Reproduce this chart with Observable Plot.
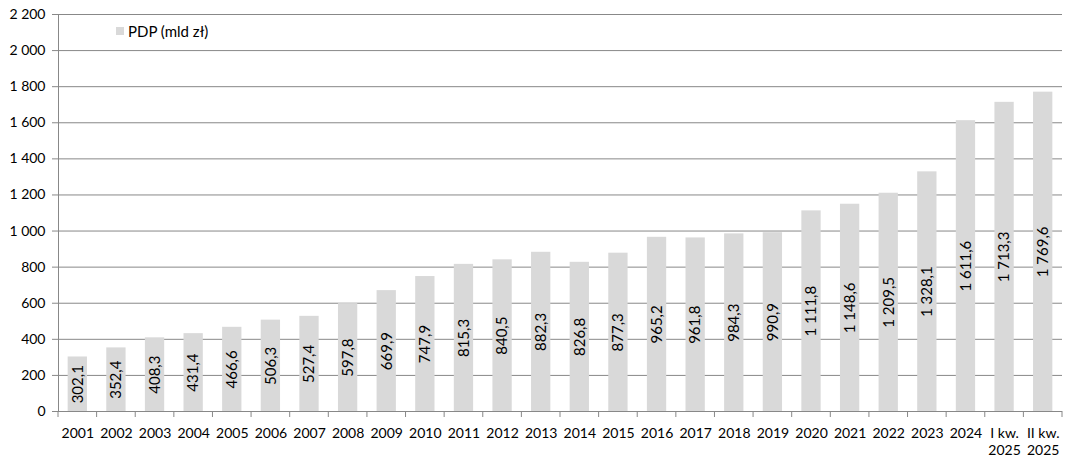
<!DOCTYPE html>
<html><head><meta charset="utf-8">
<script src="https://cdn.jsdelivr.net/npm/d3@7"></script>
<script src="https://cdn.jsdelivr.net/npm/@observablehq/plot@0.6"></script>
<style>
body{margin:0;background:#fff;font-family:Lato,sans-serif}
#wrap{position:relative;width:1071px;height:461px}
#legend{position:absolute;left:116px;top:22px;font:15px Lato,sans-serif;color:#000;display:flex;align-items:center;height:18px}
#legend .sw{display:inline-block;width:8px;height:8px;background:#d9d9d9;margin-right:4px}
</style></head>
<body>
<div id="wrap"><div id="chart"></div><div id="legend"><span class="sw"></span><span>PDP (mld zł)</span></div></div>
<script>
const categories = ["2001","2002","2003","2004","2005","2006","2007","2008","2009","2010","2011","2012","2013","2014","2015","2016","2017","2018","2019","2020","2021","2022","2023","2024","I kw.\n2025","II kw.\n2025"];
const values = [302.1,352.4,408.3,431.4,466.6,506.3,527.4,597.8,669.9,747.9,815.3,840.5,882.3,826.8,877.3,965.2,961.8,984.3,990.9,1111.8,1148.6,1209.5,1328.1,1611.6,1713.3,1769.6];
const yTicks = [0,200,400,600,800,1000,1200,1400,1600,1800,2000,2200];
const seriesName = "PDP (mld zł)";

const data = categories.map((c, i) => ({cat: c, value: values[i]}));
const loc = d3.formatLocale({decimal: ",", thousands: "\u00a0", grouping: [3], currency: ["", ""]});
const fmt1 = loc.format(",.1f");
const fmtInt = loc.format(",d");

function xTickMarks(index, scales, values, dimensions) {
  const x = scales.x;
  const bw = typeof x.bandwidth === "function" ? x.bandwidth() : x.bandwidth;
  const step = x(categories[1]) - x(categories[0]);
  const off = (step - bw) / 2;
  const edges = categories.map(c => x(c) - off);
  edges.push(x(categories[categories.length - 1]) + bw + off);
  const y0 = dimensions.height - dimensions.marginBottom;
  const g = d3.create("svg:g").attr("stroke", "#888").attr("stroke-width", 1);
  for (const e of edges) {
    g.append("line").attr("x1", e).attr("x2", e).attr("y1", y0).attr("y2", y0 + 6);
  }
  return g.node();
}

const plot = Plot.plot({
  width: 1071,
  height: 461,
  marginLeft: 58,
  marginRight: 9,
  marginTop: 14,
  marginBottom: 50,
  style: {fontFamily: "Lato, sans-serif", fontSize: "14px", color: "#000", background: "#fff"},
  x: {domain: categories, paddingInner: 0.5, paddingOuter: 0.25, round: false, label: null},
  y: {domain: [0, 2200], label: null},
  marks: [
    Plot.gridY(yTicks, {stroke: "#888", strokeOpacity: 1}),
    Plot.barY(data, {x: "cat", y: "value", fill: "#d9d9d9"}),
    Plot.frame({anchor: "left", stroke: "#888"}),
    Plot.ruleY([0], {stroke: "#888"}),
    Plot.axisY({ticks: yTicks, tickFormat: fmtInt, tickSize: 6, tickPadding: 7, stroke: "#888", fill: "#000", fontSize: 14, label: null}),
    Plot.axisX({tickSize: 0, tickPadding: 15, fontSize: 14, lineHeight: 1.2, fill: "#000", label: null}),
    xTickMarks,
    Plot.text(data, {x: "cat", y: d => d.value / 2, text: d => fmt1(d.value), rotate: -90, fontSize: 15, fill: "#000"})
  ]
});
document.getElementById("chart").appendChild(plot);
</script>
</body></html>
